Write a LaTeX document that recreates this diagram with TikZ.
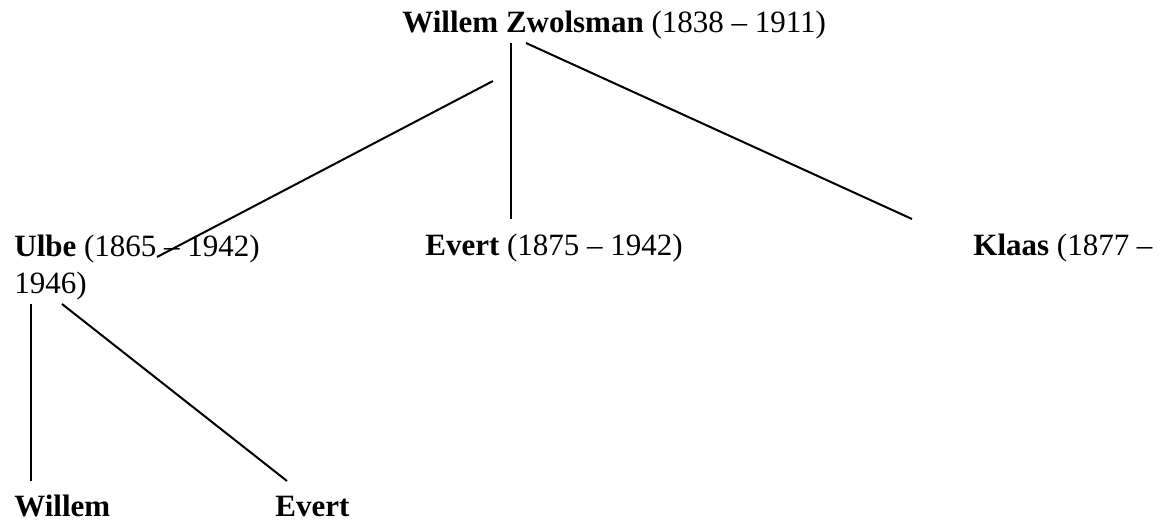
\documentclass[tikz,border=0pt]{standalone}
\usepackage{fontspec}
\setmainfont{Liberation Serif}
\usetikzlibrary{positioning}

\begin{document}
\begin{tikzpicture}[x=0.5pt,y=-0.5pt,
    person/.style={anchor=base west,inner sep=0pt,font=\fontsize{15.5}{18.5}\selectfont},
    link/.style={draw,line width=1pt}]
   \useasboundingbox (0,0) rectangle (1162,524);
   % people
   \draw (402,33) node[person] (willemz) {\textbf{Willem Zwolsman} (1838 -- 1911)};
   \draw (14,256) node[person] (ulbe) {\textbf{Ulbe} (1865 -- 1942)};
   \draw (14,293) node[person] (klaasend) {1946)};
   \draw (425,255) node[person] (evert) {\textbf{Evert} (1875 -- 1942)};
   \draw (973,255) node[person] (klaas) {\textbf{Klaas} (1877 --};
   \draw (14,516) node[person] (willem) {\textbf{Willem}};
   \draw (275,516) node[person] (evertjr) {\textbf{Evert}};
   % line ends
   \coordinate (zw-a) at (493,81);
   \coordinate (zw-b) at (511,43);
   \coordinate (zw-c) at (526,43);
   \coordinate (ulbe-in) at (157,257);
   \coordinate (evert-in) at (511,219);
   \coordinate (klaas-in) at (912,219);
   \coordinate (ulbe-a) at (31,304);
   \coordinate (ulbe-b) at (62,304);
   \coordinate (willem-in) at (31,481);
   \coordinate (evertjr-in) at (287,481);
   % links
   \draw[link] (zw-a) -- (ulbe-in);
   \draw[link] (zw-b) -- (evert-in);
   \draw[link] (zw-c) -- (klaas-in);
   \draw[link] (ulbe-a) -- (willem-in);
   \draw[link] (ulbe-b) -- (evertjr-in);
\end{tikzpicture}
\end{document}
